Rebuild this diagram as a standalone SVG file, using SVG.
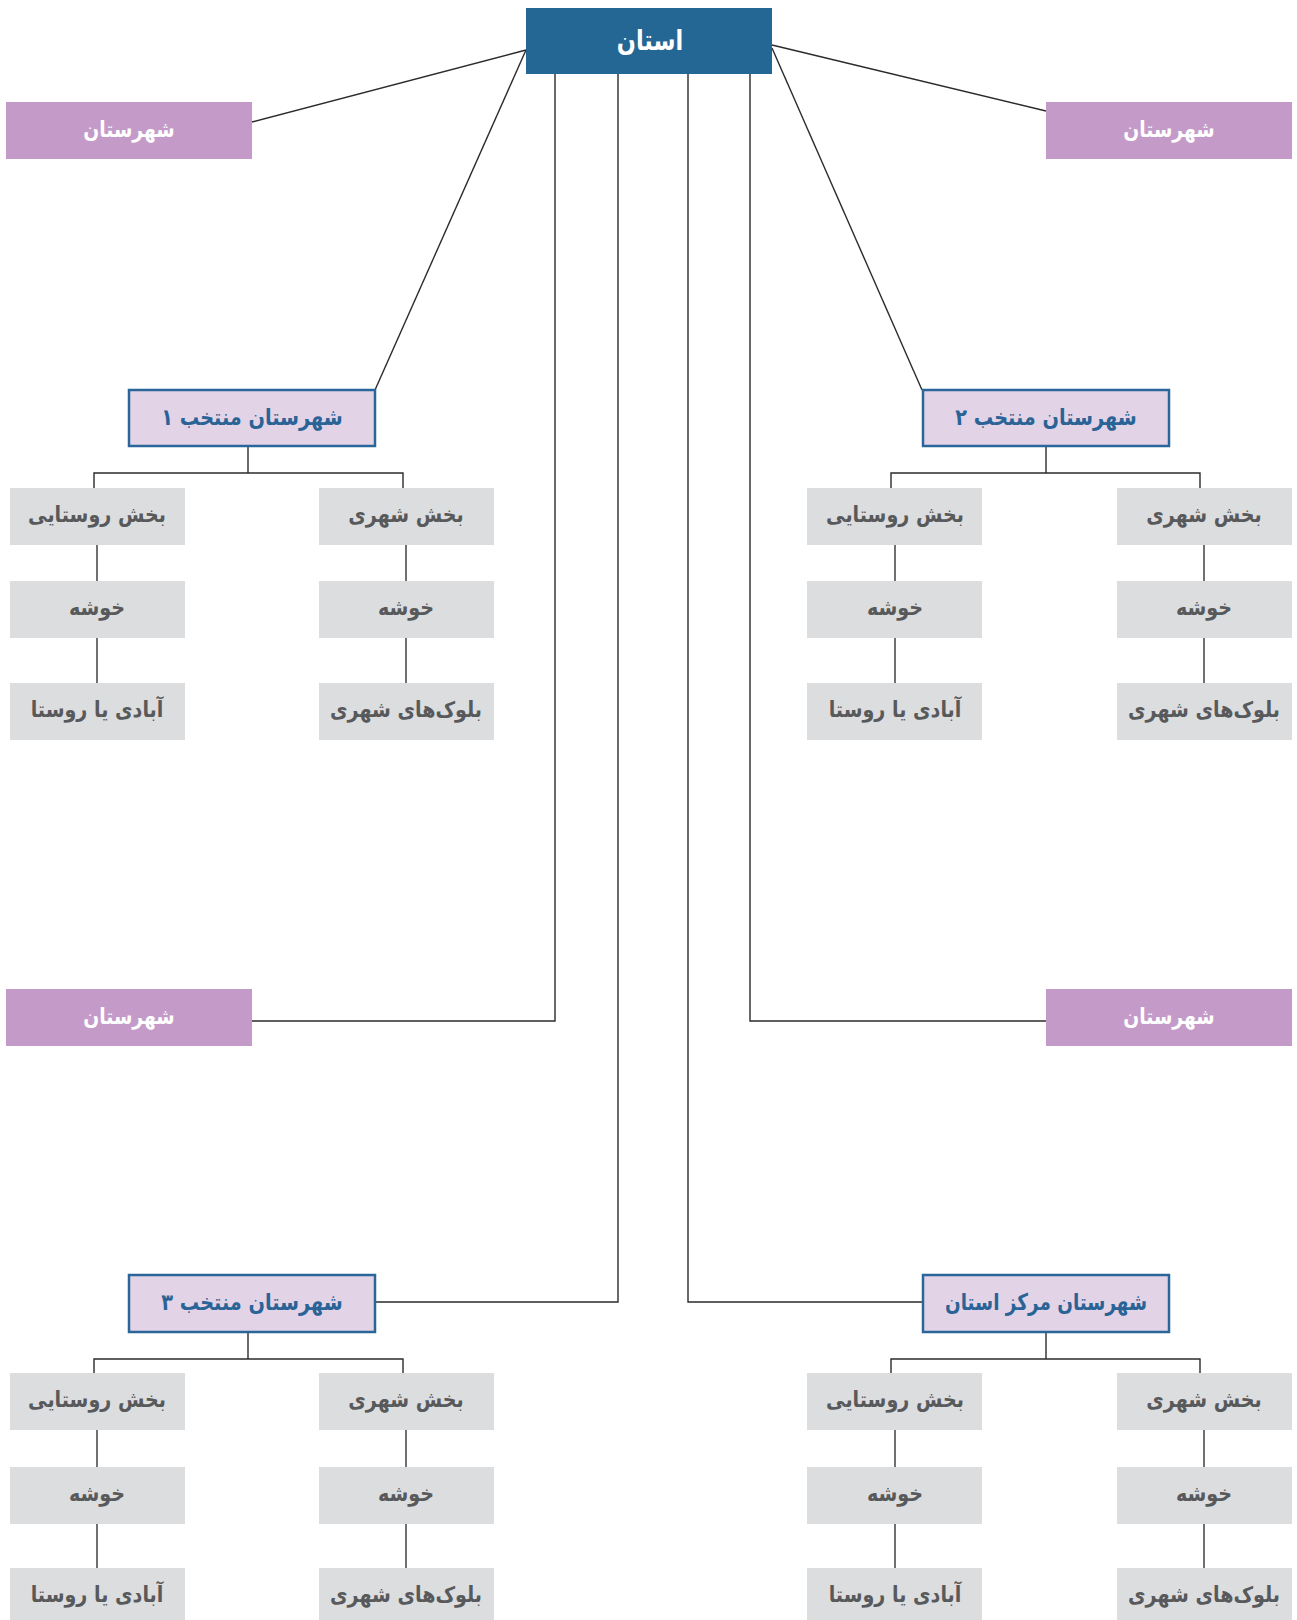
<svg xmlns="http://www.w3.org/2000/svg" width="1297" height="1620" viewBox="0 0 1297 1620">
<style>
  .top{fill:#246795}
  .shr{fill:#c49bc8}
  .sel{fill:#e3d3e6;stroke:#2a6699;stroke-width:2.5}
  .gry{fill:#dcdddf}
  text{font-family:"DejaVu Sans",sans-serif;font-weight:bold;text-anchor:middle;dominant-baseline:central}
  .tw{fill:#ffffff}
  .tb{fill:#2a6496;font-size:23px}
  .tg{fill:#58595b;font-size:22px}
  .c{fill:none;stroke:#2b2b2b;stroke-width:1.4}
  .cg{fill:none;stroke:#4d4d4f;stroke-width:1.6}
</style>
<rect width="1297" height="1620" fill="#ffffff"/>
<g id="connectors">
  <line class="c" x1="526" y1="50" x2="252" y2="122"/>
  <line class="c" x1="526" y1="50" x2="375" y2="390"/>
  <line class="c" x1="772" y1="45" x2="1046" y2="111"/>
  <line class="c" x1="772" y1="48" x2="922" y2="390"/>
  <polyline class="c" points="555,74 555,1021 252,1021"/>
  <polyline class="c" points="750,74 750,1021 1046,1021"/>
  <polyline class="c" points="618,74 618,1302 375,1302"/>
  <polyline class="c" points="688,74 688,1302 922,1302"/>
  <line class="c" x1="248" y1="446" x2="248" y2="473"/>
  <polyline class="c" points="94,488 94,473 403,473 403,488"/>
  <line class="cg" x1="97" y1="545" x2="97" y2="581"/>
  <line class="cg" x1="97" y1="638" x2="97" y2="683"/>
  <line class="cg" x1="406" y1="545" x2="406" y2="581"/>
  <line class="cg" x1="406" y1="638" x2="406" y2="683"/>
  <line class="c" x1="1046" y1="446" x2="1046" y2="473"/>
  <polyline class="c" points="891,488 891,473 1200,473 1200,488"/>
  <line class="cg" x1="895" y1="545" x2="895" y2="581"/>
  <line class="cg" x1="895" y1="638" x2="895" y2="683"/>
  <line class="cg" x1="1204" y1="545" x2="1204" y2="581"/>
  <line class="cg" x1="1204" y1="638" x2="1204" y2="683"/>
  <line class="c" x1="248" y1="1332" x2="248" y2="1359"/>
  <polyline class="c" points="94,1373 94,1359 403,1359 403,1373"/>
  <line class="cg" x1="97" y1="1430" x2="97" y2="1467"/>
  <line class="cg" x1="97" y1="1524" x2="97" y2="1568"/>
  <line class="cg" x1="406" y1="1430" x2="406" y2="1467"/>
  <line class="cg" x1="406" y1="1524" x2="406" y2="1568"/>
  <line class="c" x1="1046" y1="1332" x2="1046" y2="1359"/>
  <polyline class="c" points="891,1373 891,1359 1200,1359 1200,1373"/>
  <line class="cg" x1="895" y1="1430" x2="895" y2="1467"/>
  <line class="cg" x1="895" y1="1524" x2="895" y2="1568"/>
  <line class="cg" x1="1204" y1="1430" x2="1204" y2="1467"/>
  <line class="cg" x1="1204" y1="1524" x2="1204" y2="1568"/>
</g>
<g id="ostan"><rect class="top" x="526" y="8" width="246" height="66"/><text class="tw" transform="translate(650 40) scale(0.8 1)" style="font-size:28px">استان</text></g>
<g id="shahrestan-tl"><rect class="shr" x="6" y="102" width="246" height="57"/><text class="tw" transform="translate(129 129) scale(0.85 1)" style="font-size:22px">شهرستان</text></g>
<g id="shahrestan-tr"><rect class="shr" x="1046" y="102" width="246" height="57"/><text class="tw" transform="translate(1169 129) scale(0.85 1)" style="font-size:22px">شهرستان</text></g>
<g id="shahrestan-ml"><rect class="shr" x="6" y="989" width="246" height="57"/><text class="tw" transform="translate(129 1016) scale(0.85 1)" style="font-size:22px">شهرستان</text></g>
<g id="shahrestan-mr"><rect class="shr" x="1046" y="989" width="246" height="57"/><text class="tw" transform="translate(1169 1016) scale(0.85 1)" style="font-size:22px">شهرستان</text></g>

<g id="montakhab1"><rect class="sel" x="129" y="390" width="246" height="56"/><text class="tb" transform="translate(252 417) scale(0.84 1)">شهرستان منتخب ۱</text></g>
<g id="g1-shahri"><rect class="gry" x="319" y="488" width="175" height="57"/><text class="tg" transform="translate(406 515) scale(0.87 1)">بخش شهری</text></g>
<g id="g1-khoshe-r"><rect class="gry" x="319" y="581" width="175" height="57"/><text class="tg" transform="translate(406 608) scale(0.87 1)">خوشه</text></g>
<g id="g1-block"><rect class="gry" x="319" y="683" width="175" height="57"/><text class="tg" transform="translate(406 710) scale(0.87 1)">بلوک‌های شهری</text></g>
<g id="g1-rusta"><rect class="gry" x="10" y="488" width="175" height="57"/><text class="tg" transform="translate(97 515) scale(0.87 1)">بخش روستایی</text></g>
<g id="g1-khoshe-l"><rect class="gry" x="10" y="581" width="175" height="57"/><text class="tg" transform="translate(97 608) scale(0.87 1)">خوشه</text></g>
<g id="g1-abadi"><rect class="gry" x="10" y="683" width="175" height="57"/><text class="tg" transform="translate(97 710) scale(0.87 1)">آبادی یا روستا</text></g>

<g id="montakhab2"><rect class="sel" x="923" y="390" width="246" height="56"/><text class="tb" transform="translate(1046 417) scale(0.84 1)">شهرستان منتخب ۲</text></g>
<g id="g2-shahri"><rect class="gry" x="1117" y="488" width="175" height="57"/><text class="tg" transform="translate(1204 515) scale(0.87 1)">بخش شهری</text></g>
<g id="g2-khoshe-r"><rect class="gry" x="1117" y="581" width="175" height="57"/><text class="tg" transform="translate(1204 608) scale(0.87 1)">خوشه</text></g>
<g id="g2-block"><rect class="gry" x="1117" y="683" width="175" height="57"/><text class="tg" transform="translate(1204 710) scale(0.87 1)">بلوک‌های شهری</text></g>
<g id="g2-rusta"><rect class="gry" x="807" y="488" width="175" height="57"/><text class="tg" transform="translate(895 515) scale(0.87 1)">بخش روستایی</text></g>
<g id="g2-khoshe-l"><rect class="gry" x="807" y="581" width="175" height="57"/><text class="tg" transform="translate(895 608) scale(0.87 1)">خوشه</text></g>
<g id="g2-abadi"><rect class="gry" x="807" y="683" width="175" height="57"/><text class="tg" transform="translate(895 710) scale(0.87 1)">آبادی یا روستا</text></g>

<g id="montakhab3"><rect class="sel" x="129" y="1275" width="246" height="57"/><text class="tb" transform="translate(252 1302) scale(0.84 1)">شهرستان منتخب ۳</text></g>
<g id="g3-shahri"><rect class="gry" x="319" y="1373" width="175" height="57"/><text class="tg" transform="translate(406 1400) scale(0.87 1)">بخش شهری</text></g>
<g id="g3-khoshe-r"><rect class="gry" x="319" y="1467" width="175" height="57"/><text class="tg" transform="translate(406 1494) scale(0.87 1)">خوشه</text></g>
<g id="g3-block"><rect class="gry" x="319" y="1568" width="175" height="57"/><text class="tg" transform="translate(406 1595) scale(0.87 1)">بلوک‌های شهری</text></g>
<g id="g3-rusta"><rect class="gry" x="10" y="1373" width="175" height="57"/><text class="tg" transform="translate(97 1400) scale(0.87 1)">بخش روستایی</text></g>
<g id="g3-khoshe-l"><rect class="gry" x="10" y="1467" width="175" height="57"/><text class="tg" transform="translate(97 1494) scale(0.87 1)">خوشه</text></g>
<g id="g3-abadi"><rect class="gry" x="10" y="1568" width="175" height="57"/><text class="tg" transform="translate(97 1595) scale(0.87 1)">آبادی یا روستا</text></g>

<g id="markaz"><rect class="sel" x="923" y="1275" width="246" height="57"/><text class="tb" transform="translate(1046 1302) scale(0.8 1)">شهرستان مرکز استان</text></g>
<g id="g4-shahri"><rect class="gry" x="1117" y="1373" width="175" height="57"/><text class="tg" transform="translate(1204 1400) scale(0.87 1)">بخش شهری</text></g>
<g id="g4-khoshe-r"><rect class="gry" x="1117" y="1467" width="175" height="57"/><text class="tg" transform="translate(1204 1494) scale(0.87 1)">خوشه</text></g>
<g id="g4-block"><rect class="gry" x="1117" y="1568" width="175" height="57"/><text class="tg" transform="translate(1204 1595) scale(0.87 1)">بلوک‌های شهری</text></g>
<g id="g4-rusta"><rect class="gry" x="807" y="1373" width="175" height="57"/><text class="tg" transform="translate(895 1400) scale(0.87 1)">بخش روستایی</text></g>
<g id="g4-khoshe-l"><rect class="gry" x="807" y="1467" width="175" height="57"/><text class="tg" transform="translate(895 1494) scale(0.87 1)">خوشه</text></g>
<g id="g4-abadi"><rect class="gry" x="807" y="1568" width="175" height="57"/><text class="tg" transform="translate(895 1595) scale(0.87 1)">آبادی یا روستا</text></g>
</svg>
